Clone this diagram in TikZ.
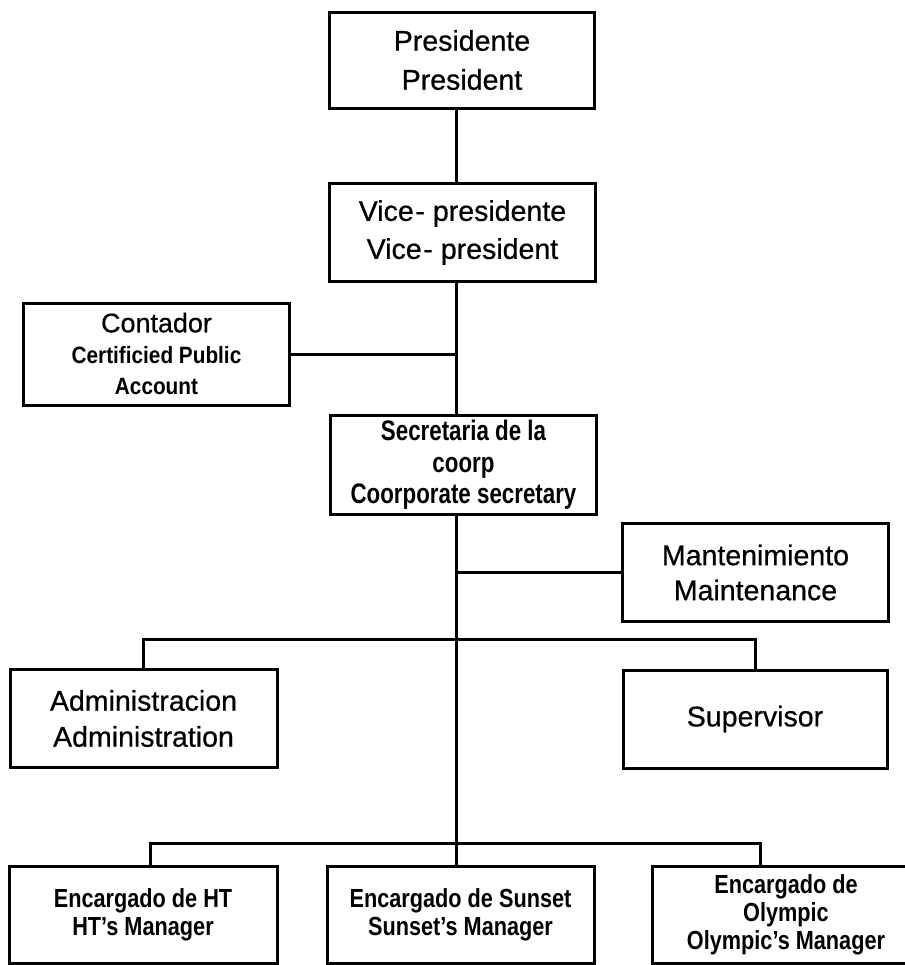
\documentclass[tikz,border=0pt]{standalone}
\usepackage{fontspec}
\setmainfont[FakeBold=0.6]{Liberation Sans}
% narrow bold faces for the smaller captions
\newfontfamily\secfont[FakeStretch=0.79]{Liberation Sans}
\newfontfamily\mgrfont[FakeStretch=0.83]{Liberation Sans}
\newfontfamily\cpafont[FakeStretch=0.88]{Liberation Sans}

\begin{document}
\begin{tikzpicture}[x=0.75pt,y=-0.75pt,
  orgbox/.style={draw, line width=2.25pt, rectangle, align=center, inner sep=0pt, fill=white},
  link/.style={line width=2.25pt},
  wide/.style={orgbox, minimum width=199pt, minimum height=74pt},
  bigtext/.style={font=\fontsize{21.4}{27.5}\selectfont},
  mgrtext/.style={font=\mgrfont\bfseries\fontsize{19.6}{21}\selectfont}
]
\useasboundingbox (0,0) rectangle (905,965);
\clip (0,0) rectangle (905,965);

% boxes
\node[wide, minimum height=72pt, font=\fontsize{21.4}{29.25}\selectfont] (pres) at (462,60) {Presidente\\President};
\node[wide, font=\fontsize{21.4}{28.5}\selectfont] (vp) at (462.5,232.5) {Vice\hspace{0.06em}- presidente\\Vice\hspace{0.06em}- president};
\node[wide, minimum height=76.5pt, font=\fontsize{20.2}{23.5}\selectfont] (cpa) at (156.5,354)
  {Contador\\{\cpafont\bfseries\fontsize{17.7}{23.5}\selectfont Certificied Public}\\{\cpafont\bfseries\fontsize{17.7}{23.5}\selectfont Account}};
\node[wide, font=\secfont\bfseries\fontsize{21.2}{23.5}\selectfont] (sec) at (463.5,465) {Secretaria de la\\coorp\\Coorporate secretary};
\node[wide, font=\fontsize{21.4}{26.25}\selectfont] (mant) at (755.5,572.5) {Mantenimiento\\Maintenance};
\node[wide, minimum width=200.25pt, font=\fontsize{21.4}{27}\selectfont] (adm) at (143.5,718.5) {Administracion\\Administration};
\node[wide, minimum width=198pt, minimum height=73.5pt, bigtext] (sup) at (755,719) {Supervisor};
\node[wide, minimum width=201pt, minimum height=72.75pt, mgrtext] (ht) at (143,914.5) {Encargado de HT\\HT’s Manager};
\node[wide, minimum width=200.25pt, minimum height=72.75pt, mgrtext] (sun) at (460.5,914.5) {Encargado de Sunset\\Sunset’s Manager};
\node[wide, minimum width=201pt, minimum height=72.75pt, mgrtext] (oly) at (786,914.5) {Encargado de\\Olympic\\Olympic’s Manager};

% trunk and branch points
\coordinate (trunk) at (456,0);
\coordinate (upbar) at (456,639);
\coordinate (lowbar) at (456,843);
\coordinate (htdrop) at (150,843);
\coordinate (olydrop) at (760,843);

% connectors
\draw[link] (pres.south -| trunk) -- (vp.north -| trunk);
\draw[link] (vp.south -| trunk) -- (sec.north -| trunk);
\draw[link] (cpa.east) -- (cpa.east -| trunk);
\draw[link] (sec.south -| trunk) -- (sun.north -| trunk);
\draw[link] (mant.west -| trunk) -- (mant.west);
\draw[link] (adm.north) -- (adm.north |- upbar) -- (sup.north |- upbar) -- (sup.north);
\draw[link] (htdrop |- ht.north) -- (htdrop) -- (olydrop) -- (olydrop |- oly.north);
\end{tikzpicture}
\end{document}
